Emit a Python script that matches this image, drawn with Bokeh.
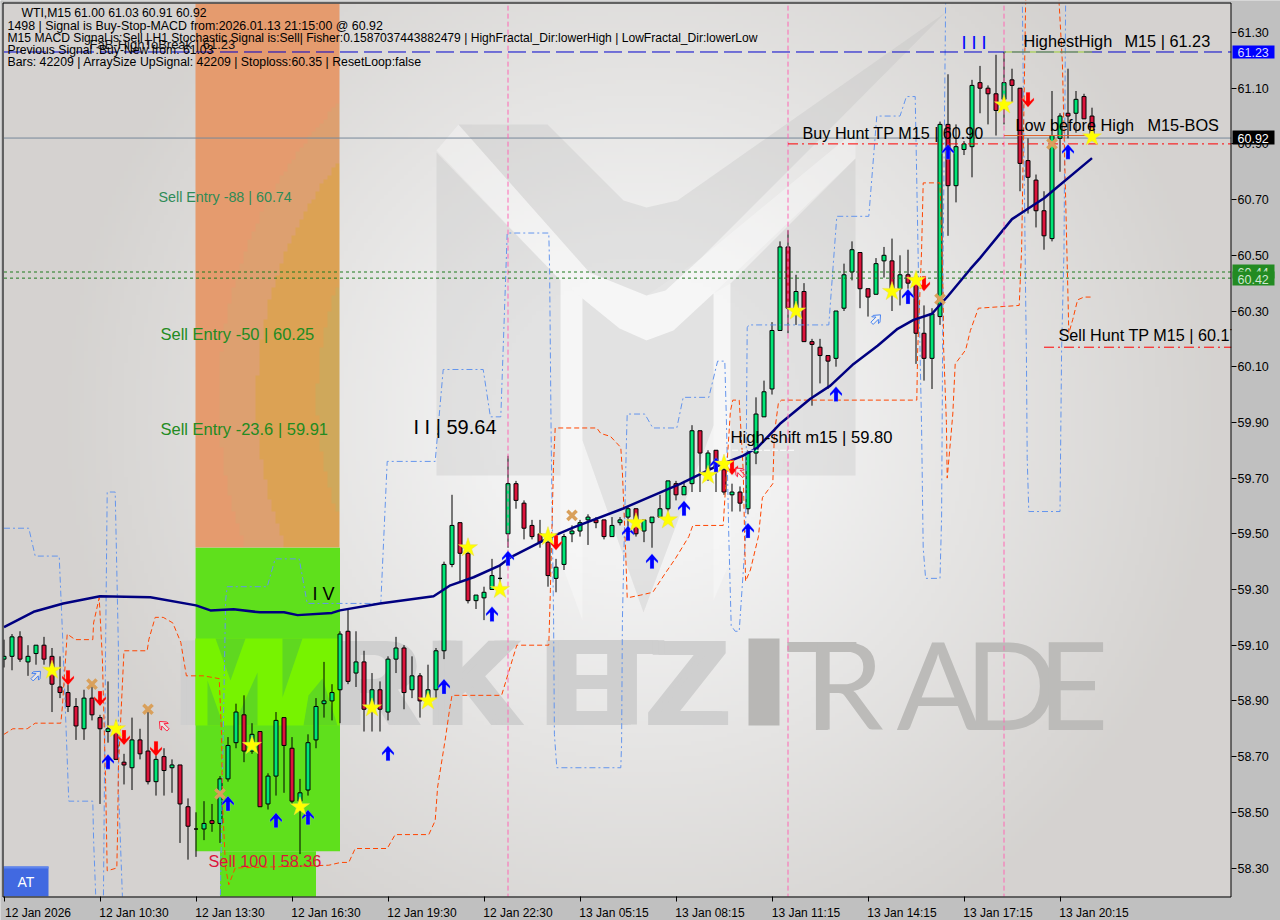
import numpy as np
from bokeh.plotting import figure
from bokeh.models import Range1d, FixedTicker, NumeralTickFormatter
from bokeh.core.properties import value
from bokeh.embed import file_html
from bokeh.resources import INLINE

opens = [59.05,59.06,59.13,59.04,59.07,59.10,59.06,58.95,58.93,58.88,58.80,58.91,58.84,58.79,58.79,58.68,58.66,58.76,58.72,58.61,58.70,58.66,58.67,58.52,58.44,58.44,58.47,58.46,58.62,58.75,58.85,58.72,58.79,58.53,58.63,58.84,58.73,58.54,58.58,58.76,58.89,58.90,58.94,
59.15,59.00,59.04,58.87,58.94,58.86,59.05,59.09,58.94,58.99,58.91,58.94,59.08,59.39,59.54,59.43,59.26,59.27,59.30,59.34,59.50,59.68,59.61,59.53,59.50,59.47,59.34,59.39,59.50,59.51,59.55,59.55,59.55,59.49,59.54,59.56,59.59,59.51,59.54,59.56,59.59,59.68,
59.64,59.68,59.87,59.73,59.80,59.73,59.64,59.65,59.59,59.79,59.92,60.02,60.23,60.53,60.31,60.37,60.19,60.17,60.14,60.13,60.31,60.44,60.51,60.38,60.36,60.48,60.48,60.38,60.43,60.40,60.22,60.13,60.28,60.97,60.75,60.88,60.89,61.12,61.10,61.08,61.06,61.13,61.10,60.84,60.77,60.66,60.56,60.92,61.01,61.01,61.07,61.00]
highs = [59.12,59.14,59.15,59.10,59.10,59.13,59.09,59.06,58.96,58.91,58.94,58.96,58.85,58.97,58.83,58.71,58.84,58.80,58.86,58.73,58.73,58.69,58.67,58.55,58.50,58.54,58.53,58.63,58.77,58.89,58.92,58.82,58.79,58.64,58.86,58.84,58.77,58.62,58.78,58.91,59.04,58.96,59.15,
59.23,59.15,59.08,59.00,58.97,59.06,59.13,59.10,59.06,59.00,59.03,59.09,59.40,59.64,59.54,59.46,59.28,59.31,59.41,59.39,59.78,59.69,59.62,59.55,59.55,59.49,59.41,59.50,59.53,59.55,59.57,59.56,59.55,59.56,59.56,59.60,59.59,59.55,59.56,59.64,59.69,59.69,
59.69,59.89,59.87,59.80,59.80,59.75,59.68,59.67,59.80,59.99,60.05,60.26,60.55,60.59,60.43,60.40,60.20,60.20,60.14,60.30,60.47,60.55,60.51,60.38,60.49,60.53,60.56,60.50,60.52,60.40,60.32,60.31,60.98,61.15,60.97,60.91,61.13,61.18,61.11,61.22,61.23,61.17,61.10,60.92,60.79,60.73,61.09,61.01,61.17,61.09,61.08,61.03]
lows = [59.02,59.01,59.04,58.99,59.03,59.03,58.86,58.91,58.86,58.76,58.76,58.83,58.53,58.75,58.69,58.60,58.58,58.69,58.60,58.56,58.56,58.57,58.39,58.33,58.34,58.40,58.43,58.39,58.61,58.73,58.68,58.71,58.52,58.51,58.56,58.57,58.53,58.35,58.56,58.73,58.84,58.83,58.82,
58.96,58.95,58.79,58.79,58.79,58.83,59.00,58.87,58.91,58.84,58.90,58.91,59.05,59.38,59.33,59.25,59.23,59.19,59.30,59.30,59.45,59.59,59.48,59.48,59.45,59.31,59.29,59.37,59.47,59.49,59.46,59.52,59.48,59.49,59.53,59.52,59.49,59.47,59.45,59.56,59.58,59.62,
59.64,59.65,59.65,59.69,59.65,59.64,59.58,59.58,59.57,59.75,59.92,60.00,60.23,60.22,60.25,60.19,59.96,60.04,60.02,60.10,60.30,60.41,60.31,60.28,60.36,60.42,60.30,60.32,60.38,60.11,60.05,60.02,60.25,60.57,60.69,60.86,60.78,61.01,60.97,60.93,60.97,61.05,60.73,60.65,60.60,60.52,60.55,60.80,60.92,60.94,60.99,60.91]
closes = [59.06,59.13,59.05,59.06,59.10,59.05,58.96,58.93,58.88,58.81,58.91,58.85,58.80,58.80,58.69,58.67,58.76,58.71,58.61,58.69,58.65,58.67,58.53,58.45,58.44,58.46,58.46,58.62,58.74,58.86,58.72,58.78,58.52,58.63,58.83,58.74,58.54,58.57,58.75,58.88,58.90,58.93,59.14,
58.97,59.04,58.87,58.94,58.87,59.05,59.09,58.93,58.99,58.90,58.94,59.08,59.39,59.53,59.43,59.26,59.28,59.29,59.35,59.34,59.68,59.62,59.52,59.49,59.47,59.35,59.38,59.49,59.51,59.54,59.56,59.54,59.49,59.53,59.55,59.59,59.50,59.55,59.56,59.59,59.69,59.64,
59.67,59.87,59.79,59.79,59.74,59.65,59.65,59.61,59.79,59.93,60.01,60.23,60.53,60.31,60.37,60.19,60.18,60.14,60.12,60.30,60.43,60.52,60.38,60.35,60.47,60.50,60.38,60.43,60.40,60.22,60.13,60.29,60.97,60.75,60.89,60.90,61.11,61.10,61.08,61.02,61.12,61.11,60.83,60.78,60.66,60.57,60.93,61.00,61.00,61.06,60.99,60.92]

ma_bar = [0,3.7,7.4,12,18.3,24,25.8,28.7,32,35,36.7,41,42,47,53.7,55.8,58.7,62,63.3,67.9,71.2,77.4,84.6,88.7,92.4,94.2,97,100.8,103.3,106.2,109.2,111.7,113.7,116,118,120.8,122,126,130,136]
ma_val = [59.165,59.22,59.25,59.276,59.272,59.243,59.225,59.229,59.218,59.218,59.208,59.216,59.225,59.25,59.276,59.315,59.344,59.387,59.415,59.483,59.523,59.591,59.68,59.738,59.781,59.81,59.895,59.985,60.032,60.11,60.175,60.236,60.268,60.29,60.354,60.451,60.49,60.63,60.705,60.849]

upper_bar = [0,3.1,3.9,6.9,7.3,8.1,11.1,11.2,11.6,12.4,12.7,12.9,13.9,14.3,14.3,14.8,15.2,27,27.05,27.7,27.9,32.9,33.9,36.9,37.9,47.1,47.9,53.9,54.9,59.9,60.8,62.1,62.9,68.1,68.2,68.4,68.7,68.8,69.1,77.1,77.2,77.3,77.8,77.9,80.1,81.1,84.1,84.9,88.1,89.2,90.1,90.3,90.6,90.9,91.4,91.9,92.7,92.9,93.1,103.1,104.1,108.1,109.1,112,112.8,113.9,114.3,114.7,114.8,114.9,115.2,117,117.2,117.4,117.7,118,127.2,127.3,127.7,127.8,127.9,128.1,132,132.2,132.5,132.7]
upper_val = [59.52,59.52,59.42,59.42,59.15,58.54,58.54,58.40,58.10,58.10,59.09,59.65,59.65,59.09,58.59,58.20,58.0,58.0,58.20,59.26,59.31,59.31,59.41,59.41,59.25,59.25,59.76,59.76,60.09,60.09,59.92,59.92,60.58,60.58,60.45,59.83,59.19,58.78,58.66,58.66,58.75,59.19,59.83,59.93,59.93,59.88,59.88,59.99,59.99,60.12,60.12,59.91,59.49,59.17,59.15,59.15,59.49,60.24,60.25,60.25,60.64,60.64,61.00,61.00,61.07,61.07,60.45,59.88,59.66,59.45,59.34,59.34,59.56,60.52,61.40,61.6,61.6,61.40,60.36,60.15,59.77,59.58,59.58,60.16,60.52,61.40]

lower_bar = [0,1.1,2.9,3.9,7.1,7.3,7.9,8.9,11.1,11.2,11.9,12.3,12.7,12.9,14.1,14.2,14.3,15,17.9,18.1,18.9,19.9,21.1,22.1,22.8,24.9,26.9,27.2,27.3,27.7,28.1,28.9,40.6,42.1,43.1,43.9,47.9,48.9,53.1,53.9,54.2,55.2,55.7,56,62.2,64.1,68.1,68.3,68.7,68.9,74.1,74.6,75.8,77.1,77.3,77.7,77.9,79.6,81.1,82.7,83.9,85.6,86.1,89.9,90.2,90.8,91.1,91.9,92.4,92.7,93.3,94.3,94.8,96.1,96.3,96.8,97.2,114.1,114.2,114.7,114.9,117,117.4,117.45,117.8,117.9,118.3,118.6,118.9,120.2,120.8,121.8,126.9,127.2,127.3,127.7,128,131.6,131.9,132.3,133,133.1,133.6,134.2,135,136]
lower_val = [58.78,58.80,58.80,58.82,58.82,58.88,59.14,59.12,59.12,59.18,59.27,59.05,58.61,58.29,58.30,58.43,58.66,59.08,59.08,59.12,59.20,59.20,59.18,59.11,58.99,58.99,58.98,58.78,58.54,58.30,58.24,58.30,58.31,58.32,58.32,58.37,58.37,58.42,58.42,58.47,58.59,58.77,58.87,58.92,58.92,59.10,59.10,59.30,59.76,59.88,59.88,59.86,59.85,59.81,59.72,59.44,59.27,59.28,59.29,59.36,59.41,59.49,59.53,59.53,59.67,59.94,59.98,59.98,59.73,59.33,59.37,59.49,59.63,59.68,59.86,59.97,59.98,59.98,60.15,60.52,60.76,60.76,60.35,60.17,59.90,59.70,59.83,59.93,60.11,60.16,60.23,60.31,60.32,60.52,60.69,61.40,61.6,61.6,61.40,61.19,60.35,60.22,60.27,60.34,60.35,60.35]

star_bar = [6,14,31,37,46,53,58,62,68,79,83,88,90,99,111,114,125,136]
star_val = [59.01,58.80,58.74,58.52,58.875,58.90,59.45,59.30,59.49,59.54,59.55,59.71,59.75,60.30,60.37,60.41,61.04,60.925]
up_bar = [13,28,34,38,48,55,61,63,78,81,85,89,93,104,113,118,133]
up_val = [58.68,58.53,58.47,58.48,58.71,58.95,59.21,59.41,59.50,59.40,59.59,59.745,59.51,60.00,60.35,60.87,60.87]
down_bar = [8,12,15,19,69,91,115,128]
down_val = [58.985,58.91,58.77,58.73,59.47,59.74,60.40,61.06]
cross_bar = [11,18,27,71,117,131]
cross_val = [58.96,58.87,58.566,59.566,60.343,60.90]
hollow_up_bar = [4,109]
hollow_up_val = [58.99,60.27]
hollow_down_bar = [20,92]
hollow_down_val = [58.81,59.72]
separator_bar = [63,98,125]

price_ticks = [58.3,58.5,58.7,58.9,59.1,59.3,59.5,59.7,59.9,60.1,60.3,60.5,60.7,60.9,61.1,61.3]
time_ticks = [0,12,24,36,48,60,72,84,96,108,120,132]
time_labels = ["12 Jan 2026","12 Jan 10:30","12 Jan 13:30","12 Jan 16:30","12 Jan 19:30","12 Jan 22:30","13 Jan 05:15","13 Jan 08:15","13 Jan 11:15","13 Jan 14:15","13 Jan 17:15","13 Jan 20:15"]

FONT = "Liberation Sans"
PX_PER_BAR = 8.0
PX_PER_PRICE = 278.5
LABEL_SHIFT = 4.25   # tick label centres sit to the right of their tick marks

p = figure(width=1280, height=920, frame_width=1280, frame_height=920,
           x_range=Range1d(-0.4375, 159.5625), y_range=Range1d(58.1115, 61.4149),
           y_axis_location="right", output_backend="svg", toolbar_location=None,
           min_border_left=0, min_border_right=0, min_border_top=0, min_border_bottom=0,
           border_fill_color="#c0c0c0", background_fill_color="#c0c0c0",
           outline_line_color=None)
p.extra_x_ranges = {"px": Range1d(0, 1280)}
p.extra_y_ranges = {"px": Range1d(920, 0)}
PX = dict(x_range_name="px", y_range_name="px")
p.grid.visible = False

ax = p.xaxis[0]
ax.fixed_location = 58.1959
ax.ticker = FixedTicker(ticks=[t + LABEL_SHIFT for t in time_ticks], minor_ticks=time_ticks)
ax.major_label_overrides = {t + LABEL_SHIFT: s for t, s in zip(time_ticks, time_labels)}
ax.major_tick_line_color = None
ax.major_tick_in = 0
ax.major_tick_out = 0
ax.minor_tick_in = 0
ax.minor_tick_out = 5
ax.minor_tick_line_color = "black"
ax.axis_line_color = None
ax.major_label_text_font = FONT
ax.major_label_text_font_size = "12px"
ax.major_label_text_color = "black"
ax.major_label_standoff = 4
ay = p.yaxis[0]
ay.fixed_location = 153.4375
ay.ticker = FixedTicker(ticks=price_ticks)
ay.formatter = NumeralTickFormatter(format="0.00")
ay.major_tick_in = 0
ay.major_tick_out = 5
ay.minor_tick_line_color = None
ay.axis_line_color = None
ay.major_label_text_font = FONT
ay.major_label_text_font_size = "12.5px"
ay.major_label_text_color = "black"
ay.major_label_standoff = 1

# background gradient
ny, nx = 224, 307
X, Y = np.meshgrid(np.linspace(3, 1231, nx), np.linspace(3, 896, ny))
R = np.hypot(X - 640, Y - 420)
T = np.clip((R - 150) / 370, 0, 1.15)
bg = np.zeros((ny, nx, 4), dtype=np.uint8)
bg[..., 0] = 242 - 25 * T
bg[..., 1] = 242 - 27 * T
bg[..., 2] = 242 - 29 * T
bg[..., 3] = 255
p.image_rgba(image=[bg.view(np.uint32).reshape(ny, nx)], x=3, y=3, dw=1228, dh=893, **PX)

# watermark logo
GR = dict(fill_color="#bdbdbd", fill_alpha=0.30, line_color=None)
WH = dict(fill_color="white", fill_alpha=0.30, line_color=None)
p.patch([436, 458, 589, 646, 700, 855, 855, 713, 673, 646, 619, 582, 560], [150, 124, 272, 295, 258, 130, 158, 293, 330, 340, 328, 298, 280], **WH, **PX)
p.patch([560, 582, 582, 560], [280, 298, 620, 560], **WH, **PX)
p.patch([713, 730, 730, 713], [293, 283, 560, 600], **WH, **PX)
p.patch([436, 560, 560, 436], [152, 280, 475, 475], **GR, **PX)
p.patch([582, 619, 646, 673, 713, 713, 643, 582], [298, 328, 340, 330, 293, 425, 612, 440], **GR, **PX)
p.patch([855, 730, 730, 855], [158, 283, 475, 475], **GR, **PX)
p.patch([458, 547, 623, 646, 677, 945, 815, 700, 665, 646, 589], [124, 124, 200, 207, 200, 12, 143, 258, 290, 295, 272], **GR, **PX)

# watermark wording
for t, x in zip("MARKETZ", [172, 240, 322, 424, 538, 578, 644]):
    for off in (0, 6, 12):
        p.text(x=[x + off], y=[682], text=[t], text_font=value(FONT), text_font_style="bold", text_font_size="123px",
               text_color="#cfcfcf", text_baseline="middle", **PX)
p.quad(left=[748], right=[779], top=[638], bottom=[725], fill_color="#b8b7b5", line_color=None, **PX)
for t, x in zip("TRADE", [785, 806, 896, 964, 1037]):
    p.text(x=[x], y=[682], text=[t], text_font=value("Lato"), text_font_size="123px",
           text_color="#bcbbb9", text_baseline="middle", **PX)

# sell zones
zone_left, zone_right = 23.95, 42.0
zone_mid, zone_low = 59.45, 58.36
oh, ow = 136, 36
OX, OY = np.meshgrid(np.linspace(195, 339, ow), np.linspace(3, 547, oh))
RO = np.hypot(OX - 640, OY - 400)
col = np.zeros((oh, ow, 4), dtype=np.uint8)
col[...] = (229, 155, 110, 255)
col[RO < 423] = (221, 160, 112, 255)
col[RO < 384] = (220, 162, 84, 255)
col[RO < 322] = (207, 168, 91, 255)
p.image_rgba(image=[col.view(np.uint32).reshape(oh, ow)], x=195, y=3, dw=144, dh=544, **PX)
p.quad(left=[zone_left], right=[zone_right], top=[zone_mid], bottom=[zone_low], fill_color="#5fe01c", line_color=None)
p.quad(left=[27.0], right=[39.0], top=[zone_low], bottom=[58.19], fill_color="#5fe01c", line_color=None)
p.quad(left=[195], right=[339], top=[638], bottom=[725], fill_color="#77f300", line_color=None, **PX)
for xs, ys in [([215, 245, 230], [638, 638, 680]), ([207, 223, 207], [680, 725, 725]), ([257, 257, 233], [672, 725, 725]),
               ([282, 302, 282], [638, 638, 697]), ([308, 322, 337, 303], [695, 678, 725, 725])]:
    p.patch(xs, ys, fill_color="#5fd820", line_color=None, **PX)

# horizontal level under the candles
last = 153.44
p.segment(x0=[0], x1=[last], y0=[60.921], y1=[60.921], line_color="#778899", line_width=1)

# candles
idx = np.arange(len(opens))
o, h, l, c = map(np.array, (opens, highs, lows, closes))
p.segment(x0=idx, x1=idx, y0=l, y1=h, line_color="black", line_width=1)
up = c >= o
p.vbar(x=idx[up], width=0.5, top=c[up], bottom=o[up], fill_color="#00e676", line_color="black", line_width=1)
p.vbar(x=idx[~up], width=0.5, top=o[~up], bottom=c[~up], fill_color="#dc143c", line_color="black", line_width=1)

# channels
p.line(upper_bar, upper_val, line_color="#6495ed", line_width=1, line_dash="6 3 2 3")
p.line(lower_bar, lower_val, line_color="#ff4500", line_width=1, line_dash="5 3")
p.line(ma_bar, ma_val, line_color="#000080", line_width=2.5)

# separators and levels
for b in separator_bar:
    p.segment(x0=[b], x1=[b], y0=[58.19], y1=[61.41], line_color="#ff69b4", line_width=1, line_dash="5 3")
p.segment(x0=[0], x1=[last], y0=[61.23], y1=[61.23], line_color="#0000cd", line_width=1, line_dash="18 6")
p.segment(x0=[125], x1=[136], y0=[61.23], y1=[61.23], line_color="#9acd32", line_width=1)
p.segment(x0=[125], x1=[136], y0=[60.93], y1=[60.93], line_color="#e0602a", line_width=1)
p.segment(x0=[98], x1=[last], y0=[60.90], y1=[60.90], line_color="#ff0000", line_width=1, line_dash="10 4 2 4")
p.segment(x0=[130], x1=[last], y0=[60.17], y1=[60.17], line_color="#ff0000", line_width=1, line_dash="10 4 2 4")
for lv in (60.44, 60.418):
    p.segment(x0=[0], x1=[last], y0=[lv], y1=[lv], line_color="#1f7a1f", line_width=1, line_dash="3 3")
p.segment(x0=[91], x1=[99], y0=[59.80], y1=[59.80], line_color="white", line_width=1, line_dash="6 2")

# signal markers
ARROW = [(0, -8), (6, -1), (6, 1.5), (2, -2), (2, 7), (-2, 7), (-2, -2), (-6, 1.5), (-6, -1)]
def arrow_xy(bar, val, flip=1, rot=0.0, scale=1.0):
    cr, sr = np.cos(rot), np.sin(rot)
    xs, ys = [], []
    for dx, dy in ARROW:
        dy = dy * flip
        rx = (dx * cr - dy * sr) * scale
        ry = (dx * sr + dy * cr) * scale
        xs.append(bar + rx / PX_PER_BAR)
        ys.append(val - ry / PX_PER_PRICE)
    return xs, ys

for b, v in zip(up_bar, up_val):
    xs, ys = arrow_xy(b, v)
    p.patch(xs, ys, fill_color="#0000ff", line_color="#9fc4ff", line_width=0.5, line_alpha=0.6)
for b, v in zip(down_bar, down_val):
    xs, ys = arrow_xy(b, v, flip=-1)
    p.patch(xs, ys, fill_color="#ff0000", line_color="#ff9f9f", line_width=0.5, line_alpha=0.6)
for b, v in zip(hollow_up_bar, hollow_up_val):
    xs, ys = arrow_xy(b, v, rot=np.pi / 4, scale=0.8)
    p.patch(xs, ys, fill_color="white", fill_alpha=0.4, line_color="#4682f0", line_width=1)
for b, v in zip(hollow_down_bar, hollow_down_val):
    xs, ys = arrow_xy(b, v, rot=-np.pi / 4, scale=0.8)
    p.patch(xs, ys, fill_color="white", fill_alpha=0.4, line_color="#ff2040", line_width=1)
p.scatter(cross_bar, cross_val, marker="x", size=13, line_color="#d9a05b", line_width=3.5)
p.scatter(star_bar, star_val, marker="star", size=20, fill_color="#ffff00", line_color="#e6dc50", line_width=0.5)

# AT button
p.quad(left=[3], right=[48], top=[866], bottom=[896], fill_color="#4169e1", line_color=None, **PX)
p.quad(left=[3], right=[48], top=[866], bottom=[868], fill_color="#5f85ee", line_color=None, **PX)

def txt(x, y, s, color="black", size=16, align="left", level="glyph"):
    p.text(x=[x], y=[y], text=[s], text_font=value(FONT), text_font_size=f"{size}px", text_color=color,
           text_baseline="middle", text_align=align, level=level, **PX)

txt(25.5, 881, "AT", "white", 14, "center")
txt(89, 44, "FaB-HighToBreak | 61.23", "#101010", 13)
txt(21, 12, "WTI,M15  61.00 61.03 60.91 60.92", "black", 12.2)
txt(7, 25, "1498 | Signal is Buy-Stop-MACD from:2026.01.13 21:15:00 @ 60.92", "black", 12.4)
txt(7, 37, "M15 MACD Signal is:Sell | H1 Stochastic Signal is:Sell| Fisher:0.1587037443882479 | HighFractal_Dir:lowerHigh | LowFractal_Dir:lowerLow", "black", 12.1)
txt(7, 49, "Previous Signal :Buy-New from: 61.03", "black", 12.2)
txt(7, 61, "Bars: 42209 | ArraySize UpSignal: 42209 | Stoploss:60.35 | ResetLoop:false", "black", 12.3)

txt(961, 42, "I I I", "#0000ff", 18)
txt(1023, 40, "HighestHigh", "black", 16.3)
txt(1124, 40, "M15 | 61.23", "black", 16.3)
txt(1015, 124, "Low before High", "black", 16.3)
txt(1147, 124, "M15-BOS", "black", 16.3)
txt(802, 132, "Buy Hunt TP M15 | 60.90", "black", 16.2)
txt(1058, 334, "Sell Hunt TP M15 | 60.17", "black", 16.2)
txt(730, 437, "High-shift m15 | 59.80", "black", 16.6)
txt(158, 196, "Sell Entry -88 | 60.74", "#2e8b57", 14.3)
txt(160, 333, "Sell Entry -50 | 60.25", "#228b22", 16.5)
txt(160, 428, "Sell Entry -23.6 | 59.91", "#228b22", 16.5)
txt(413, 426, "I I | 59.64", "black", 20)
txt(312, 593, "I V", "black", 18)
txt(208, 860, "Sell 100 | 58.36", "#dc143c", 16.3)

# outer strips and frame
p.quad(left=[1231], right=[1280], top=[0], bottom=[920], fill_color="#c0c0c0", line_color=None, **PX)
p.quad(left=[0], right=[1231], top=[896], bottom=[920], fill_color="#c0c0c0", line_color=None, **PX)
p.quad(left=[0], right=[1231], top=[0], bottom=[3], fill_color="#c0c0c0", line_color=None, **PX)
p.quad(left=[0], right=[3], top=[0], bottom=[896], fill_color="#c0c0c0", line_color=None, **PX)
p.line([2.5, 1230.5, 1230.5, 2.5, 2.5], [2.5, 2.5, 896.5, 896.5, 2.5], line_color="black", line_width=1, **PX)

# price tags
def tag(top, bottom, s, fill, color):
    p.quad(left=[1232], right=[1274], top=[top], bottom=[bottom], fill_color=fill, line_color=None, level="annotation", **PX)
    p.text(x=[1237], y=[(top + bottom) / 2 + 0.5], text=[s], text_font=value(FONT), text_font_size="12.5px",
           text_color=color, text_baseline="middle", level="annotation", **PX)

tag(45, 58, "61.23", "#0000ff", "#d8d8ff")
tag(130, 144, "60.92", "#000000", "#ffffff")
tag(264, 278, "60.44", "#228b22", "#cfe8cf")
tag(271, 285, "60.42", "#228b22", "#cfe8cf")

html = file_html(p, INLINE)
open("out.html", "w").write(html)
